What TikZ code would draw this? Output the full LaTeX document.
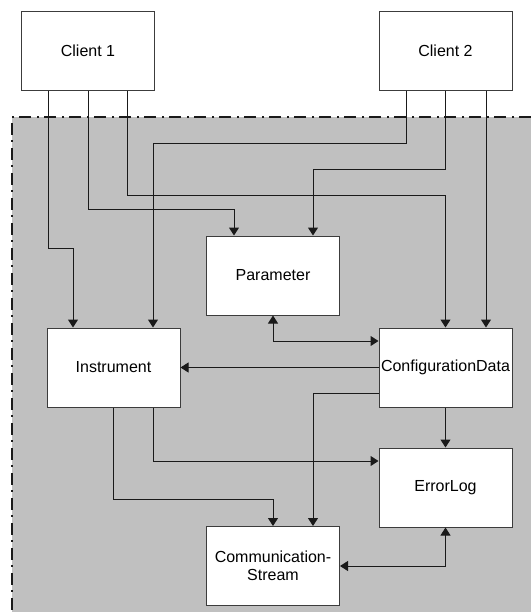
\documentclass[tikz,border=0pt]{standalone}
\usepackage{fontspec}
\setmainfont{Liberation Sans}
\usepackage{xcolor}
\usetikzlibrary{arrows.meta,positioning,calc}
\definecolor{ZoneGray}{HTML}{C0C0C0}
\definecolor{LineDark}{HTML}{1A1A1A}
\tikzset{
  unitbox/.style={draw=LineDark!85,fill=white,minimum width=66.5pt,minimum height=39.5pt,inner sep=0pt,align=center,line width=0.5pt,font=\fontsize{8}{9}\selectfont},
  linkarrow/.style={-{Triangle[length=4pt,width=5pt]},line width=0.5pt,draw=LineDark},
  bothlink/.style={{Triangle[length=4pt,width=5pt]}-{Triangle[length=4pt,width=5pt]},line width=0.5pt,draw=LineDark},
  zoneborder/.style={line width=0.6pt,draw=LineDark,dash pattern=on 6pt off 2.5pt on 1pt off 3pt}
}
\begin{document}
\begin{tikzpicture}[x=0.5pt,y=-0.5pt]
\useasboundingbox (0,0) rectangle (531,612);
% shaded zone
\fill[ZoneGray] (12,117) rectangle (531,612);
\draw[zoneborder] (531,117) -- (12,117) -- (12,612);
% boxes
\node[unitbox] (client1) at (88,50.5) {Client 1};
\node[unitbox] (client2) at (445.5,50.5) {Client 2};
\node[unitbox] (param) at (273,275.5) {Parameter};
\node[unitbox] (config) at (445.5,367.5) {ConfigurationData};
\node[unitbox,left=99pt of config] (instr) {Instrument};
\node[unitbox,below=20pt of config] (errlog) {ErrorLog};
\node[unitbox] (comm) at (273,566) {Communication-\\Stream};
% client links
\draw[linkarrow] ($(client1.south)+(-40,0)$) -- ++(0,158) -| ($(instr.north)+(-40.5,0)$);
\draw[linkarrow] (client1.south) -- ++(0,119) -| ($(param.north)+(-39,0)$);
\draw[linkarrow] ($(client1.south)+(39,0)$) -- ++(0,105) -| (config.north);
\draw[linkarrow] ($(client2.south)+(-39.5,0)$) -- ++(0,53) -| ($(instr.north)+(39.5,0)$);
\draw[linkarrow] (client2.south) -- ++(0,79) -| ($(param.north)+(40,0)$);
\draw[linkarrow] ($(client2.south)+(40.5,0)$) -- ($(config.north)+(40.5,0)$);
% inner links
\draw[bothlink] (param.south) |- ($(config.west)+(0,-26.5)$);
\draw[linkarrow] (config.west) -- (instr.east);
\draw[linkarrow] ($(config.west)+(0,25.5)$) -| ($(comm.north)+(40,0)$);
\draw[linkarrow] (config.south) -- (errlog.north);
\draw[linkarrow] ($(instr.south)+(39.5,0)$) |- ($(errlog.west)+(0,-26.5)$);
\draw[linkarrow] (instr.south) -- ++(0,92) -| (comm.north);
\draw[bothlink] (comm.east) -| (errlog.south);
\end{tikzpicture}
\end{document}
